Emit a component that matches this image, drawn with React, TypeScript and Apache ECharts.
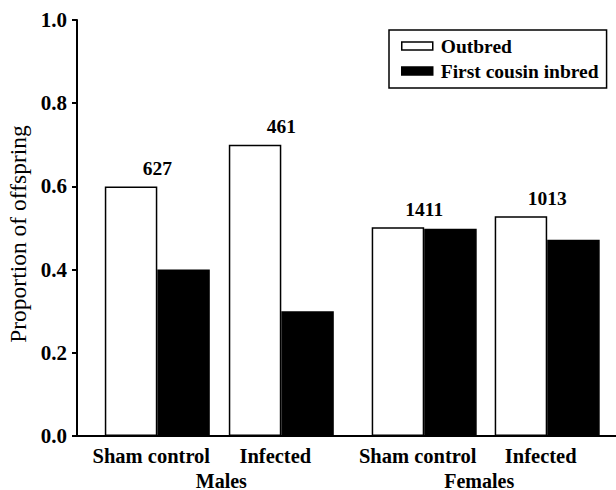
import React, { useEffect, useRef } from 'react';
import * as echarts from 'echarts';

// Treatment groups within each sex
const categories = ['Sham control', 'Infected'];
const sexes = ['Males', 'Females'];
const seriesNames = ['Outbred', 'First cousin inbred'];

// Proportion of offspring per group
const outbredMales = [0.6, 0.7];
const inbredMales = [0.4, 0.3];
const outbredFemales = [0.502, 0.528];
const inbredFemales = [0.498, 0.472];

// Number of offspring counted in each group
const countsMales = [627, 461];
const countsFemales = [1411, 1013];

const FONT = 'Liberation Serif';
const BAR_W = 52.5;

export default function App() {
  const ref = useRef<HTMLDivElement>(null);

  useEffect(() => {
    document.body.style.margin = '0';
    const chart = echarts.init(ref.current!, null, { renderer: 'svg' });

    const boldText = { fontFamily: FONT, fontWeight: 'bold' as const, color: '#000' };

    const barPair = (
      axisIdx: number,
      outbred: number[],
      inbred: number[],
      counts: number[]
    ) => [
      {
        type: 'bar',
        name: seriesNames[0],
        xAxisIndex: axisIdx,
        yAxisIndex: axisIdx,
        data: outbred,
        barWidth: BAR_W,
        barGap: '0%',
        itemStyle: { color: '#fff', borderColor: '#000', borderWidth: 1.5 },
        label: {
          show: true,
          position: 'top',
          distance: 8,
          offset: [BAR_W / 2, 0],
          formatter: (p: any) => String(counts[p.dataIndex]),
          ...boldText,
          fontSize: 19.5,
        },
      },
      {
        type: 'bar',
        name: seriesNames[1],
        xAxisIndex: axisIdx,
        yAxisIndex: axisIdx,
        data: inbred,
        barWidth: BAR_W,
        barGap: '0%',
        itemStyle: { color: '#000', borderColor: '#000', borderWidth: 1.5 },
      },
    ];

    const groupAxis = (gridIndex: number, name: string, labelPad: number[], namePad: number[]) => ({
      gridIndex,
      type: 'category',
      data: categories,
      axisLine: { show: false },
      axisTick: { show: false },
      axisLabel: {
        ...boldText,
        fontSize: 20.5,
        margin: 9,
        padding: labelPad,
        interval: 0,
        hideOverlap: false,
      },
      name,
      nameLocation: 'middle',
      nameGap: 33,
      nameTextStyle: { ...boldText, fontSize: 20, lineHeight: 18, padding: namePad },
    });

    const hiddenY = (gridIndex: number) => ({
      gridIndex,
      type: 'value',
      min: 0,
      max: 1,
      show: false,
    });

    const gridBase = { top: 20, bottom: 54, containLabel: false, outerBoundsMode: 'none' };

    chart.setOption({
      animation: false,
      backgroundColor: '#fff',
      grid: [
        { ...gridBase, left: 77, right: 0 },
        { ...gridBase, left: 95.3, width: 248 },
        { ...gridBase, left: 362.7, width: 246 },
      ],
      legend: {
        orient: 'vertical',
        left: 389,
        top: 30,
        icon: 'rect',
        itemWidth: 31,
        itemHeight: 8,
        itemGap: 5,
        padding: [6, 8, 7, 12],
        borderColor: '#000',
        borderWidth: 1.5,
        data: [
          { name: seriesNames[0], itemStyle: { color: '#fff', borderColor: '#000', borderWidth: 1.5 } },
          { name: seriesNames[1], itemStyle: { color: '#000', borderColor: '#000', borderWidth: 1.5 } },
        ],
        textStyle: { ...boldText, fontSize: 19.5, padding: [0, 0, 0, 3] },
      },
      xAxis: [
        {
          gridIndex: 0,
          type: 'value',
          min: 0,
          max: 1,
          axisLine: { show: true, lineStyle: { color: '#000', width: 2 } },
          axisTick: { show: false },
          axisLabel: { show: false },
          splitLine: { show: false },
        },
        groupAxis(1, sexes[0], [0, 12, 0, 0], [0, 0, 0, 4]),
        groupAxis(2, sexes[1], [0, 13, 0, 0], [0, 13, 0, 0]),
      ],
      yAxis: [
        {
          gridIndex: 0,
          type: 'value',
          min: 0,
          max: 1,
          interval: 0.2,
          axisLine: { show: true, lineStyle: { color: '#000', width: 2 } },
          axisTick: { show: true, length: 5, lineStyle: { color: '#000', width: 2 } },
          axisLabel: {
            ...boldText,
            fontSize: 21,
            margin: 10,
            formatter: (v: number) => v.toFixed(1),
          },
          splitLine: { show: false },
          name: 'Proportion of offspring',
          nameLocation: 'middle',
          nameGap: 40,
          nameTextStyle: { fontFamily: FONT, fontSize: 23.5, color: '#000', padding: [0, 12, 0, 0] },
        },
        hiddenY(1),
        hiddenY(2),
      ],
      series: [
        ...barPair(1, outbredMales, inbredMales, countsMales),
        ...barPair(2, outbredFemales, inbredFemales, countsFemales),
      ],
    });

    return () => chart.dispose();
  }, []);

  return <div ref={ref} style={{ width: 616, height: 490 }} />;
}
